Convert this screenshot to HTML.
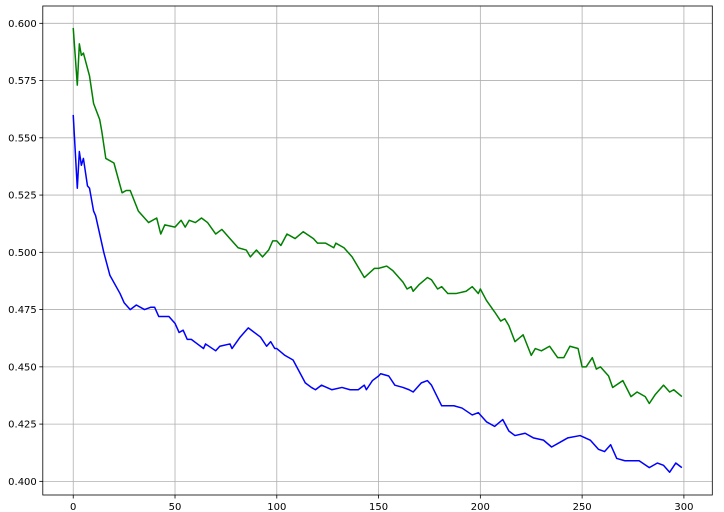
<!DOCTYPE html>
<html><head><meta charset="utf-8"><style>
body{margin:0;background:#fff;}
svg{display:block;font-family:"DejaVu Sans","Liberation Sans",sans-serif;}
</style></head><body>
<svg id="chart" width="724" height="512" viewBox="0 0 724 512" xmlns="http://www.w3.org/2000/svg">
<rect width="724" height="512" fill="#fff"/>
<g id="grid"></g>
<g id="series"></g>
<g id="axes"></g>
</svg>
<script>
const xTicks = [0, 50, 100, 150, 200, 250, 300];
const yTicks = [0.400, 0.425, 0.450, 0.475, 0.500, 0.525, 0.550, 0.575, 0.600];
const yTickLabels = ["0.400","0.425","0.450","0.475","0.500","0.525","0.550","0.575","0.600"];
const greenX = [0,2,3,4,5,8,10,13,14,16,20,24,26,28,32,37,41,43,45,50,53,55,57,60,63,66,70,73,77,81,85,87,90,93,96,98,100,102,105,109,113,118,120,124,128,129,133,137,143,148,150,154,157,162,164,166,167,170,174,176,179,181,184,188,193,196,199,200,203,207,210,212,214,217,221,225,227,230,234,238,241,244,248,250,252,255,257,259,263,265,270,274,277,281,283,286,290,293,295,299];
const greenY = [0.598,0.573,0.591,0.586,0.587,0.577,0.565,0.558,0.553,0.541,0.539,0.526,0.527,0.527,0.518,0.513,0.515,0.508,0.512,0.511,0.514,0.511,0.514,0.513,0.515,0.513,0.508,0.510,0.506,0.502,0.501,0.498,0.501,0.498,0.501,0.505,0.505,0.503,0.508,0.506,0.509,0.506,0.504,0.504,0.502,0.504,0.502,0.498,0.489,0.493,0.493,0.494,0.492,0.487,0.484,0.485,0.483,0.486,0.489,0.488,0.484,0.485,0.482,0.482,0.483,0.485,0.482,0.484,0.479,0.474,0.470,0.471,0.468,0.461,0.464,0.455,0.458,0.457,0.459,0.454,0.454,0.459,0.458,0.450,0.450,0.454,0.449,0.450,0.446,0.441,0.444,0.437,0.439,0.437,0.434,0.438,0.442,0.439,0.440,0.437];
const blueX = [0,2,3,4,5,7,8,10,11,15,18,23,25,28,31,35,38,40,42,47,50,52,54,56,58,61,64,65,70,72,77,78,82,86,92,95,97,99,100,104,108,114,117,119,122,127,132,136,140,143,144,147,150,151,155,158,162,165,167,171,174,176,181,187,191,196,199,203,207,211,214,217,222,226,231,235,239,243,249,254,258,261,264,267,271,274,278,283,287,290,293,296,299];
const blueY = [0.560,0.528,0.544,0.538,0.541,0.529,0.528,0.518,0.516,0.500,0.490,0.482,0.478,0.475,0.477,0.475,0.476,0.476,0.472,0.472,0.469,0.465,0.466,0.462,0.462,0.460,0.458,0.460,0.457,0.459,0.460,0.458,0.463,0.467,0.463,0.459,0.461,0.458,0.458,0.455,0.453,0.443,0.441,0.440,0.442,0.440,0.441,0.440,0.440,0.442,0.440,0.444,0.446,0.447,0.446,0.442,0.441,0.440,0.439,0.443,0.444,0.442,0.433,0.433,0.432,0.429,0.430,0.426,0.424,0.427,0.422,0.420,0.421,0.419,0.418,0.415,0.417,0.419,0.420,0.418,0.414,0.413,0.416,0.410,0.409,0.409,0.409,0.406,0.408,0.407,0.404,0.408,0.406];

const L=42.8, R=712.3, T=6, B=495;
const xMin=-14.95, xMax=313.95, yMin=0.39404, yMax=0.60756;
const sx = v => L + (v - xMin) / (xMax - xMin) * (R - L);
const sy = v => B - (v - yMin) / (yMax - yMin) * (B - T);
const NS="http://www.w3.org/2000/svg";
function mk(tag, attrs, parent){const e=document.createElementNS(NS,tag);for(const k in attrs)e.setAttribute(k,attrs[k]);parent.appendChild(e);return e;}
const grid=document.getElementById('grid'), axes=document.getElementById('axes'), series=document.getElementById('series');

xTicks.forEach(t=>{
  const x=sx(t);
  const g=mk('line',{x1:x,x2:x,y1:T,y2:B,stroke:'#b0b0b0','stroke-width':0.8},grid);
  
  
  const tk=mk('line',{x1:x,x2:x,y1:B,y2:B+3.5,stroke:'#000','stroke-width':0.8},axes);
  
  
  const lb=mk('text',{x:x,y:B+15,'font-size':10,'text-anchor':'middle',fill:'#000'},axes);
  lb.textContent=String(t);
  
  
});
yTicks.forEach((t,i)=>{
  const y=sy(t);
  const g=mk('line',{x1:L,x2:R,y1:y,y2:y,stroke:'#b0b0b0','stroke-width':0.8},grid);
  
  
  const tk=mk('line',{x1:L-3.5,x2:L,y1:y,y2:y,stroke:'#000','stroke-width':0.8},axes);
  
  
  const lb=mk('text',{x:L-6,y:y+3.5,'font-size':10,'text-anchor':'end',fill:'#000'},axes);
  lb.textContent=yTickLabels[i];
  
  
});
const frame=mk('rect',{x:L,y:T,width:R-L,height:B-T,fill:'none',stroke:'#000','stroke-width':0.8},axes);



function line(xs, ys, color, name){
  const d=xs.map((x,i)=>(i?'L':'M')+sx(x).toFixed(2)+','+sy(ys[i]).toFixed(2)).join(' ');
  const p=mk('path',{d:d,fill:'none',stroke:color,'stroke-width':1.5,'stroke-linejoin':'round'},series);
  
  
}
line(greenX, greenY, '#008000', 'green-series-line');
line(blueX, blueY, '#0000ff', 'blue-series-line');
</script>
</body></html>
